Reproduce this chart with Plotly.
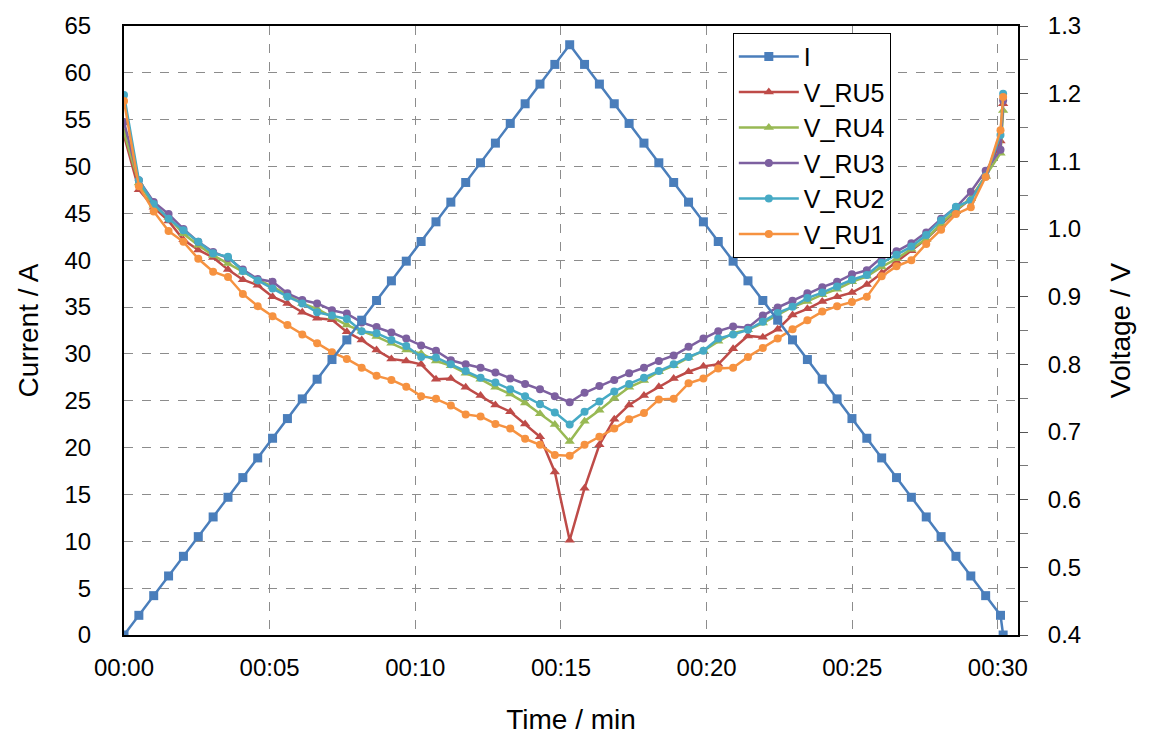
import plotly.graph_objects as go

# time in minutes (sample every ~30.6 s)
time_min = [0, 0.51, 1.02, 1.53, 2.04, 2.55, 3.06, 3.57, 4.08, 4.59, 5.10, 5.61, 6.12, 6.63, 7.14,
            7.65, 8.16, 8.67, 9.18, 9.69, 10.20, 10.71, 11.22, 11.73, 12.24, 12.75, 13.26, 13.77,
            14.28, 14.79, 15.30, 15.81, 16.32, 16.83, 17.34, 17.85, 18.36, 18.87, 19.38, 19.89,
            20.40, 20.91, 21.42, 21.93, 22.44, 22.95, 23.46, 23.97, 24.48, 24.99, 25.50, 26.01,
            26.52, 27.03, 27.54, 28.05, 28.56, 29.07, 29.58, 30.09, 30.18]

current_I = [0, 2.1, 4.2, 6.3, 8.4, 10.5, 12.6, 14.7, 16.8, 18.9, 21.0, 23.1, 25.2, 27.3, 29.4,
             31.5, 33.6, 35.7, 37.8, 39.9, 42.0, 44.1, 46.2, 48.3, 50.4, 52.5, 54.6, 56.7, 58.8,
             60.9, 63.0, 60.9, 58.8, 56.7, 54.6, 52.5, 50.4, 48.3, 46.2, 44.1, 42.0, 39.9, 37.8,
             35.7, 33.6, 31.5, 29.4, 27.3, 25.2, 23.1, 21.0, 18.9, 16.8, 14.7, 12.6, 10.5, 8.4,
             6.3, 4.2, 2.1, 0]

v_ru3 = [1.158, 1.072, 1.040, 1.022, 1.000, 0.981, 0.966, 0.957, 0.940, 0.926, 0.922, 0.905,
         0.895, 0.890, 0.880, 0.875, 0.862, 0.855, 0.847, 0.838, 0.828, 0.820, 0.806, 0.800,
         0.795, 0.788, 0.779, 0.771, 0.763, 0.753, 0.744, 0.758, 0.768, 0.777, 0.787, 0.795,
         0.805, 0.813, 0.826, 0.838, 0.849, 0.856, 0.854, 0.872, 0.884, 0.894, 0.905, 0.914,
         0.922, 0.933, 0.939, 0.958, 0.967, 0.979, 0.995, 1.015, 1.032, 1.055, 1.086, 1.117,
         1.190]
v_ru2 = [1.198, 1.072, 1.037, 1.015, 0.998, 0.981, 0.964, 0.959, 0.938, 0.924, 0.912, 0.900,
         0.890, 0.877, 0.872, 0.867, 0.849, 0.846, 0.836, 0.827, 0.811, 0.810, 0.800, 0.790,
         0.780, 0.773, 0.763, 0.753, 0.741, 0.729, 0.711, 0.730, 0.745, 0.760, 0.771, 0.780,
         0.790, 0.800, 0.811, 0.820, 0.838, 0.844, 0.851, 0.863, 0.876, 0.885, 0.898, 0.906,
         0.915, 0.925, 0.932, 0.950, 0.962, 0.974, 0.991, 1.013, 1.033, 1.042, 1.078, 1.139,
         1.200]
v_ru4 = [1.143, 1.068, 1.035, 1.017, 0.993, 0.976, 0.961, 0.949, 0.936, 0.925, 0.915, 0.902,
         0.890, 0.882, 0.870, 0.858, 0.849, 0.841, 0.831, 0.821, 0.816, 0.805, 0.798, 0.787,
         0.778, 0.766, 0.756, 0.743, 0.727, 0.711, 0.686, 0.716, 0.732, 0.750, 0.766, 0.776,
         0.789, 0.798, 0.810, 0.820, 0.834, 0.846, 0.851, 0.861, 0.873, 0.885, 0.893, 0.903,
         0.911, 0.922, 0.930, 0.944, 0.956, 0.970, 0.985, 1.008, 1.028, 1.045, 1.078, 1.112,
         1.175]
v_ru5 = [1.138, 1.058, 1.032, 1.012, 0.984, 0.969, 0.958, 0.940, 0.925, 0.917, 0.900, 0.890,
         0.877, 0.868, 0.866, 0.848, 0.836, 0.821, 0.808, 0.805, 0.800, 0.778, 0.779, 0.766,
         0.754, 0.740, 0.730, 0.712, 0.693, 0.641, 0.540, 0.617, 0.681, 0.719, 0.740, 0.754,
         0.767, 0.779, 0.789, 0.797, 0.800, 0.823, 0.842, 0.840, 0.852, 0.873, 0.882, 0.893,
         0.900, 0.906, 0.918, 0.935, 0.952, 0.968, 0.985, 1.006, 1.027, 1.045, 1.078, 1.130,
         1.185]
v_ru1 = [1.189, 1.063, 1.026, 0.997, 0.981, 0.956, 0.937, 0.929, 0.904, 0.886, 0.871, 0.858,
         0.844, 0.831, 0.818, 0.808, 0.795, 0.783, 0.777, 0.767, 0.753, 0.749, 0.739, 0.726,
         0.723, 0.712, 0.705, 0.690, 0.681, 0.666, 0.665, 0.681, 0.693, 0.705, 0.719, 0.728,
         0.748, 0.749, 0.772, 0.779, 0.794, 0.795, 0.811, 0.824, 0.838, 0.852, 0.865, 0.878,
         0.886, 0.892, 0.900, 0.930, 0.945, 0.954, 0.978, 0.999, 1.022, 1.032, 1.077, 1.146,
         1.195]

x_tickvals = [0, 5, 10, 15, 20, 25, 30]
x_ticktext = ["00:00", "00:05", "00:10", "00:15", "00:20", "00:25", "00:30"]

FONT = "Arial, Liberation Sans, sans-serif"
TICK = 24
TITLE = 28

fig = go.Figure()

volt_series = [
    ("V_RU5", v_ru5, "#BE4B48", "triangle-up", 9),
    ("V_RU4", v_ru4, "#98B954", "triangle-up", 9),
    ("V_RU3", v_ru3, "#7D60A0", "circle", 8),
    ("V_RU2", v_ru2, "#46AAC5", "circle", 8),
    ("V_RU1", v_ru1, "#F69240", "circle", 8),
]

# current (drawn on the overlaying axis so it sits on top, like the reference)
fig.add_trace(go.Scatter(
    x=time_min, y=current_I, name="I", mode="lines+markers", yaxis="y2",
    line=dict(color="#4A7EBB", width=2.5),
    marker=dict(symbol="square", size=9, color="#4A7EBB"),
    legendrank=1,
))
for k, (name, vals, col, sym, sz) in enumerate(volt_series):
    fig.add_trace(go.Scatter(
        x=time_min, y=vals, name=name, mode="lines+markers", yaxis="y",
        line=dict(color=col, width=2.5),
        marker=dict(symbol=sym, size=sz, color=col),
        legendrank=2 + k,
    ))

fig.update_layout(
    width=1152, height=743,
    margin=dict(l=124, r=134, t=20, b=108),
    plot_bgcolor="white", paper_bgcolor="white",
    font=dict(family=FONT, size=TICK, color="black"),
    showlegend=True,
    legend=dict(
        x=0.681, y=0.989, xanchor="left", yanchor="top",
        bgcolor="white", bordercolor="black", borderwidth=1,
        font=dict(family=FONT, size=25, color="black"),
        tracegroupgap=0, itemwidth=60,
        traceorder="normal",
    ),
    xaxis=dict(
        range=[0, 30.69], tickvals=x_tickvals, ticktext=x_ticktext,
        showgrid=True, gridcolor="#8C8C8C", griddash="dash", gridwidth=1,
        showline=True, linecolor="black", linewidth=2, mirror=True,
        ticks="", ticklabelstandoff=10, zeroline=False,
        title=dict(text="Time / min", standoff=30, font=dict(size=TITLE)),
        tickfont=dict(size=TICK),
    ),
    yaxis=dict(
        range=[0.4, 1.3], dtick=0.1, tickformat=".1f", side="right",
        showgrid=False, zeroline=False,
        showline=True, linecolor="black", linewidth=2,
        ticks="outside", ticklen=8, tickcolor="#555", tickwidth=1,
        minor=dict(dtick=0.05, ticks="outside", ticklen=8, tickcolor="#777", showgrid=False),
        ticklabelstandoff=15,
        title=dict(text="Voltage / V", standoff=30, font=dict(size=TITLE)),
        tickfont=dict(size=TICK),
    ),
    yaxis2=dict(
        range=[0, 65], dtick=5, overlaying="y", side="left",
        showgrid=True, gridcolor="#8C8C8C", griddash="dash", gridwidth=1,
        zeroline=False, showline=True, linecolor="black", linewidth=2,
        ticks="", ticklabelstandoff=26,
        title=dict(text="Current / A", standoff=18, font=dict(size=TITLE)),
        tickfont=dict(size=TICK),
    ),
)

fig.write_html("out.html")
